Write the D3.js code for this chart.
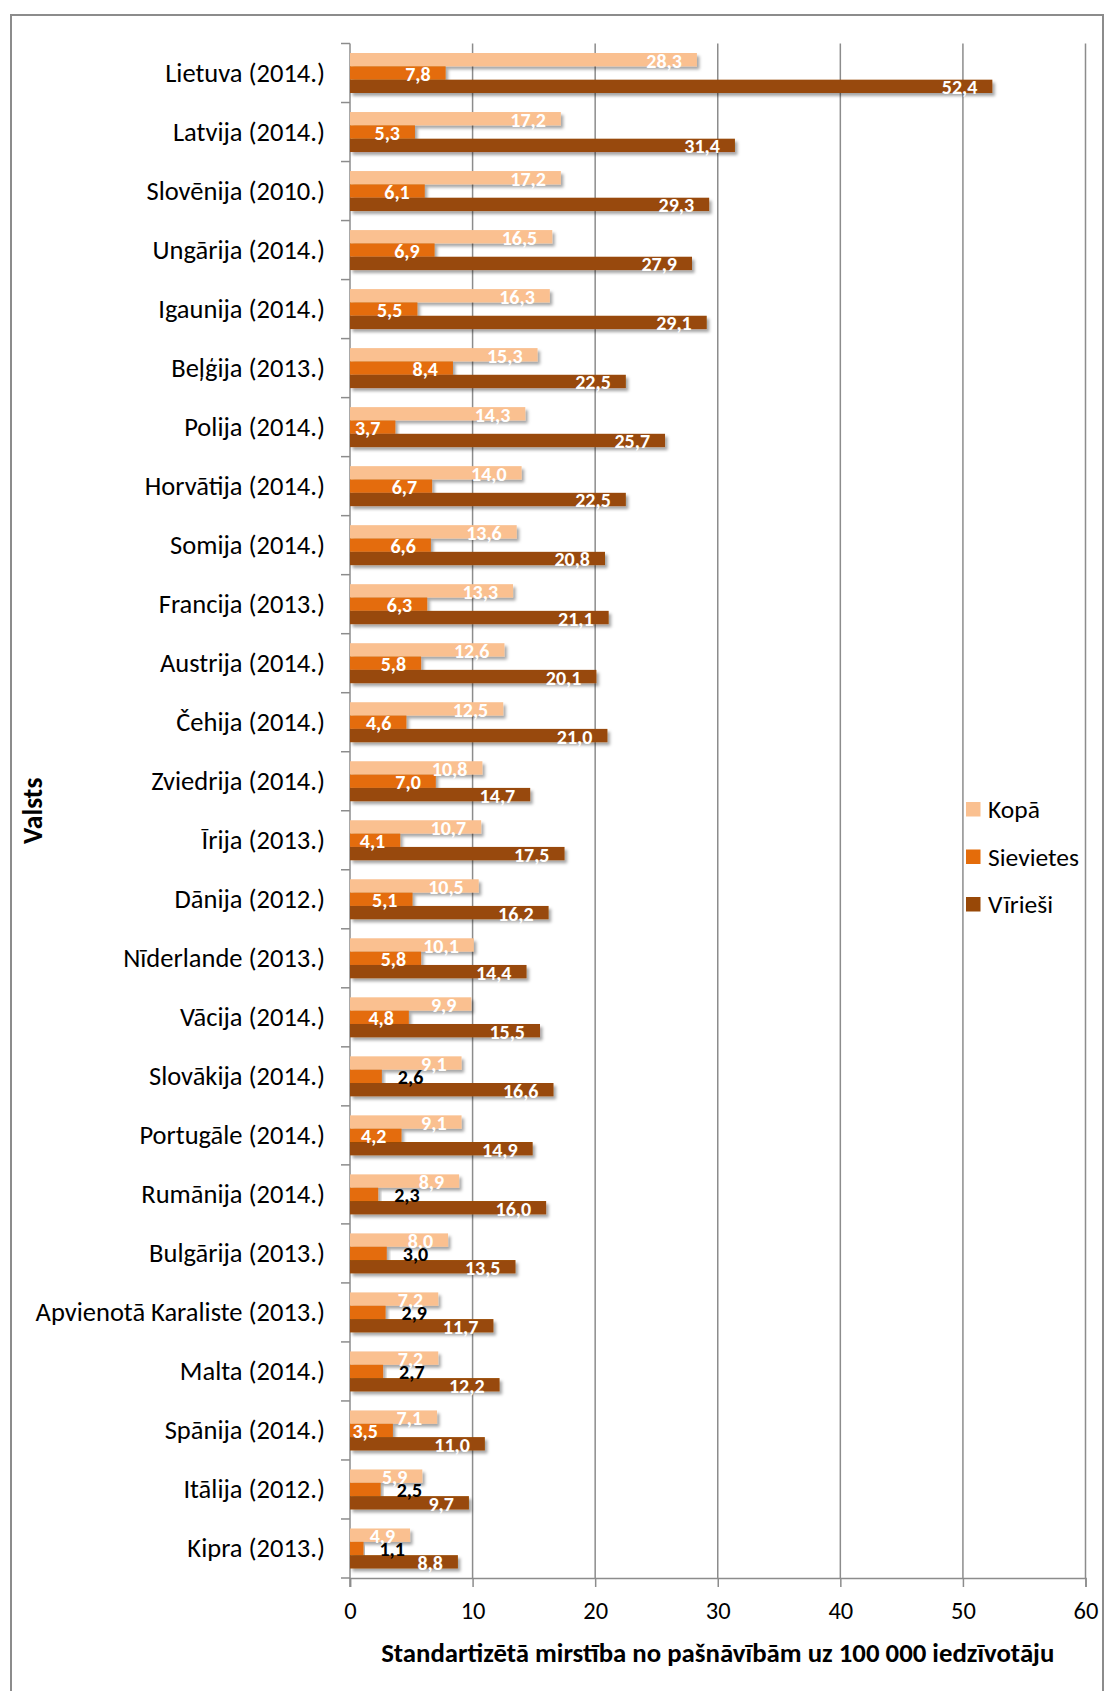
<!DOCTYPE html>
<html>
<head>
<meta charset="utf-8">
<script src="https://cdn.jsdelivr.net/npm/d3@7"></script>
<style>
  html, body { margin: 0; padding: 0; background: #fff; }
  svg { display: block; font-family: Carlito, Lato, "Open Sans", sans-serif; }
</style>
</head>
<body>
<svg id="chart" width="1105" height="1691"></svg>
<script>
const categories = [
  "Lietuva (2014.)", "Latvija (2014.)", "Slovēnija (2010.)", "Ungārija (2014.)",
  "Igaunija (2014.)", "Beļģija (2013.)", "Polija (2014.)", "Horvātija (2014.)",
  "Somija (2014.)", "Francija (2013.)", "Austrija (2014.)", "Čehija (2014.)",
  "Zviedrija (2014.)", "Īrija (2013.)", "Dānija (2012.)", "Nīderlande (2013.)",
  "Vācija (2014.)", "Slovākija (2014.)", "Portugāle (2014.)", "Rumānija (2014.)",
  "Bulgārija (2013.)", "Apvienotā Karaliste (2013.)", "Malta (2014.)",
  "Spānija (2014.)", "Itālija (2012.)", "Kipra (2013.)"
];
const seriesNames = ["Kopā", "Sievietes", "Vīrieši"];
const kopa = [28.3, 17.2, 17.2, 16.5, 16.3, 15.3, 14.3, 14.0, 13.6, 13.3, 12.6, 12.5,
  10.8, 10.7, 10.5, 10.1, 9.9, 9.1, 9.1, 8.9, 8.0, 7.2, 7.2, 7.1, 5.9, 4.9];
const sievietes = [7.8, 5.3, 6.1, 6.9, 5.5, 8.4, 3.7, 6.7, 6.6, 6.3, 5.8, 4.6,
  7.0, 4.1, 5.1, 5.8, 4.8, 2.6, 4.2, 2.3, 3.0, 2.9, 2.7, 3.5, 2.5, 1.1];
const viriesi = [52.4, 31.4, 29.3, 27.9, 29.1, 22.5, 25.7, 22.5, 20.8, 21.1, 20.1, 21.0,
  14.7, 17.5, 16.2, 14.4, 15.5, 16.6, 14.9, 16.0, 13.5, 11.7, 12.2, 11.0, 9.7, 8.8];
const xTicks = [0, 10, 20, 30, 40, 50, 60];
const xTitle = "Standartizētā mirstība no pašnāvībām uz 100 000 iedzīvotāju";
const yTitle = "Valsts";

const colors = ["#FAC090", "#E46C0A", "#984807"];
const seriesValues = [kopa, sievietes, viriesi];

const svg = d3.select("#chart");
const pL = 350, pR = 1085.5, pT = 43.5, pB = 1578;

// outer frame
svg.append("rect").attr("x", 11).attr("y", 15).attr("width", 1092).attr("height", 1700)
  .attr("fill", "none").attr("stroke", "#8c8c8c").attr("stroke-width", 2);

const defs = svg.append("defs");
const f = defs.append("filter").attr("id", "shadow").attr("x", "-5%").attr("y", "-30%")
  .attr("width", "115%").attr("height", "180%");
f.append("feDropShadow").attr("dx", 2.5).attr("dy", 3).attr("stdDeviation", 1.8)
  .attr("flood-color", "#000").attr("flood-opacity", 0.35);

const x = d3.scaleLinear().domain([0, 60]).range([pL, pR]);
const y = d3.scaleBand().domain(categories).range([pT, pB]).paddingInner(0).paddingOuter(0);
const inner = d3.scaleBand().domain(seriesNames).range([0, 40]);
const groupOffset = (y.bandwidth() - 40) / 2;

// gridlines
svg.append("g").selectAll("line").data(xTicks.filter(d => d > 0)).join("line")
  .attr("x1", d => x(d)).attr("x2", d => x(d)).attr("y1", pT).attr("y2", pB)
  .attr("stroke", "#8c8c8c").attr("stroke-width", 1.5);

// x axis
const xAxis = svg.append("g").attr("transform", `translate(0,${pB})`)
  .call(d3.axisBottom(x).tickValues(xTicks).tickSize(9).tickPadding(15).tickFormat(d3.format("d")));
xAxis.select(".domain").attr("stroke", "#8c8c8c").attr("stroke-width", 1.5);
xAxis.selectAll(".tick line").attr("stroke", "#8c8c8c").attr("stroke-width", 1.5);
xAxis.selectAll(".tick text").attr("font-size", 24.5).attr("fill", "#000")
  .attr("font-family", "Carlito, Lato, sans-serif");

// y axis (boundary ticks)
const boundaries = d3.range(categories.length + 1).map(i => pT + i * y.step());
svg.append("g").selectAll("line").data(boundaries).join("line")
  .attr("x1", pL - 9).attr("x2", pL).attr("y1", d => d).attr("y2", d => d)
  .attr("stroke", "#8c8c8c").attr("stroke-width", 1.5);
svg.append("line").attr("x1", pL).attr("x2", pL).attr("y1", pT).attr("y2", pB + 9)
  .attr("stroke", "#8c8c8c").attr("stroke-width", 1.5);

// category labels
svg.append("g").selectAll("text").data(categories).join("text")
  .attr("x", 325).attr("y", d => y(d) + y.bandwidth() / 2)
  .attr("text-anchor", "end").attr("dominant-baseline", "central")
  .attr("font-size", 26.5).attr("fill", "#000").text(d => d);

// bars
const rows = [];
categories.forEach((c, i) => {
  seriesNames.forEach((s, j) => rows.push({ c, s, j, v: seriesValues[j][i] }));
});
const barG = svg.append("g");
barG.selectAll("rect").data(rows).join("rect")
  .attr("x", x(0)).attr("y", d => y(d.c) + groupOffset + inner(d.s))
  .attr("width", d => x(d.v) - x(0)).attr("height", inner.bandwidth())
  .attr("fill", d => colors[d.j]).attr("filter", "url(#shadow)");

// data labels
const fmt = v => v.toFixed(1).replace(".", ",");
svg.append("g").selectAll("text").data(rows).join("text")
  .attr("x", d => (d.v < 3.2 ? x(d.v) + 16 : x(d.v) - 15))
  .attr("y", d => y(d.c) + groupOffset + inner(d.s) + inner.bandwidth() / 2 + 1)
  .attr("text-anchor", d => (d.v < 3.2 ? "start" : "end"))
  .attr("dominant-baseline", "central")
  .attr("font-size", 20).attr("font-weight", "bold")
  .attr("fill", d => (d.v < 3.2 ? "#000" : "#fff"))
  .text(d => fmt(d.v));

// axis titles
svg.append("text").attr("x", (pL + pR) / 2).attr("y", 1662)
  .attr("text-anchor", "middle").attr("font-size", 26.8).attr("font-weight", "bold")
  .text(xTitle);
svg.append("text").attr("transform", `translate(42,${(pT + pB) / 2}) rotate(-90)`)
  .attr("text-anchor", "middle").attr("font-size", 27.5).attr("font-weight", "bold")
  .text(yTitle);

// legend
const leg = svg.append("g").attr("transform", "translate(966,802)");
seriesNames.forEach((s, i) => {
  const g = leg.append("g").attr("transform", `translate(0,${i * 47.5})`);
  g.append("rect").attr("width", 14.5).attr("height", 14.5).attr("fill", colors[i]);
  g.append("text").attr("x", 22).attr("y", 7.5).attr("dominant-baseline", "central")
    .attr("font-size", 25.5).attr("fill", "#000").text(s);
});
</script>
</body>
</html>
